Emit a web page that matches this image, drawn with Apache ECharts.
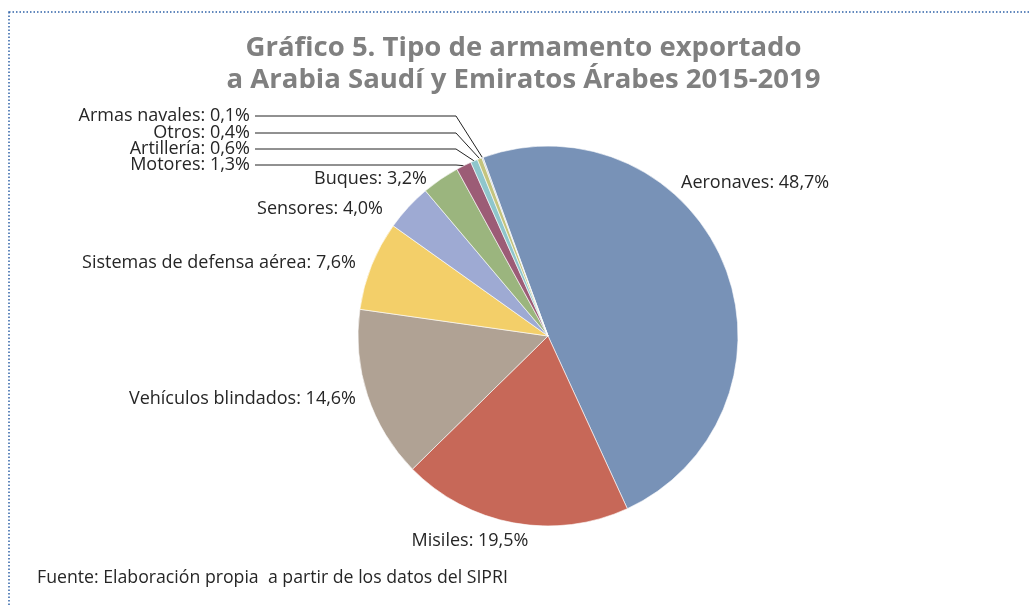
<!DOCTYPE html>
<html>
<head>
<meta charset="utf-8">
<script src="https://cdn.jsdelivr.net/npm/echarts@6/dist/echarts.min.js"></script>
<style>
    html, body {margin: 0; padding: 0; background: #fff;}
    #chart {width: 1029px; height: 607px;}
</style>
</head>
<body>
<div id="chart"></div>
<script>
    // categorias y porcentajes (sentido horario desde Aeronaves)
    const categories = ['Aeronaves', 'Misiles', 'Vehículos blindados', 'Sistemas de defensa aérea', 'Sensores',
        'Buques', 'Motores', 'Artillería', 'Otros', 'Armas navales'];
    const shares = [48.7, 19.5, 14.6, 7.6, 4.0, 3.2, 1.3, 0.6, 0.4, 0.1];
    const colors = ['#7892b7', '#c76858', '#b0a294', '#f3cf69', '#9eaad3', '#9bb57e', '#9c5c76', '#8fc6cc', '#c4c47e', '#bcc8d8'];
    // categorias con linea guia
    const guided = ['Motores', 'Artillería', 'Otros', 'Armas navales'];

    // posicion de las etiquetas (px)
    const labelSpots = {
        'Aeronaves': [681, 183, 'left'],
        'Misiles': [470, 541, 'center'],
        'Vehículos blindados': [356, 399, 'right'],
        'Sistemas de defensa aérea': [356, 263, 'right'],
        'Sensores': [383, 209, 'right'],
        'Buques': [427, 179, 'right'],
        'Motores': [250, 165, 'right'],
        'Artillería': [250, 149, 'right'],
        'Otros': [250, 133, 'right'],
        'Armas navales': [250, 116, 'right']
    };
    const guideTurnX = 456;

    let getOption = () => {
        let data = categories.map((name, i) => ({
            name: name,
            value: shares[i],
            itemStyle: {color: colors[i]},
            labelLine: {show: guided.indexOf(name) > -1}
        }));

        let option = {
            backgroundColor: '#fff',
            animation: false,
            title: {
                text: 'Gráfico 5. Tipo de armamento exportado\na Arabia Saudí y Emiratos Árabes 2015-2019',
                left: 518.5,
                textAlign: 'center',
                top: 27,
                textStyle: {
                    fontFamily: 'Open Sans',
                    fontSize: 27.5,
                    fontWeight: 'bold',
                    color: '#808080',
                    lineHeight: 32
                }
            },
            graphic: [
                {
                    type: 'rect',
                    shape: {x: 9, y: 12, width: 1060, height: 640},
                    style: {fill: 'none', stroke: '#2f62a8', lineWidth: 1.5, lineDash: [1.5, 2]}
                },
                {
                    type: 'text',
                    left: 37,
                    top: 569,
                    style: {
                        text: 'Fuente: Elaboración propia  a partir de los datos del SIPRI',
                        font: '17.7px "Open Sans"',
                        fill: '#262626'
                    }
                }
            ],
            series: [
                {
                    type: 'pie',
                    center: [548, 336],
                    radius: 190,
                    startAngle: 110,
                    clockwise: true,
                    data: data,
                    itemStyle: {borderColor: '#fff', borderWidth: 0.6},
                    label: {
                        show: true,
                        position: 'outside',
                        fontFamily: 'Open Sans',
                        fontSize: 18,
                        color: '#262626',
                        formatter: (p) => `${p.name}: ${p.value.toFixed(1).replace('.', ',')}%`
                    },
                    labelLine: {
                        length: 10,
                        length2: 10,
                        lineStyle: {color: '#222', width: 1}
                    },
                    labelLayout: (params) => {
                        let name = categories[params.dataIndex];
                        let spot = labelSpots[name];
                        let out = {x: spot[0], y: spot[1], align: spot[2], verticalAlign: 'middle'};
                        if (guided.indexOf(name) > -1 && params.labelLinePoints) {
                            let p0 = params.labelLinePoints[0];
                            out.labelLinePoints = [p0, [guideTurnX, spot[1]], [spot[0] + 5, spot[1]]];
                        }
                        return out;
                    }
                }
            ]
        };
        return option;
    };

    let chart = echarts.init(document.getElementById('chart'), null, {width: 1029, height: 607});
    chart.setOption(getOption());
</script>
</body>
</html>
